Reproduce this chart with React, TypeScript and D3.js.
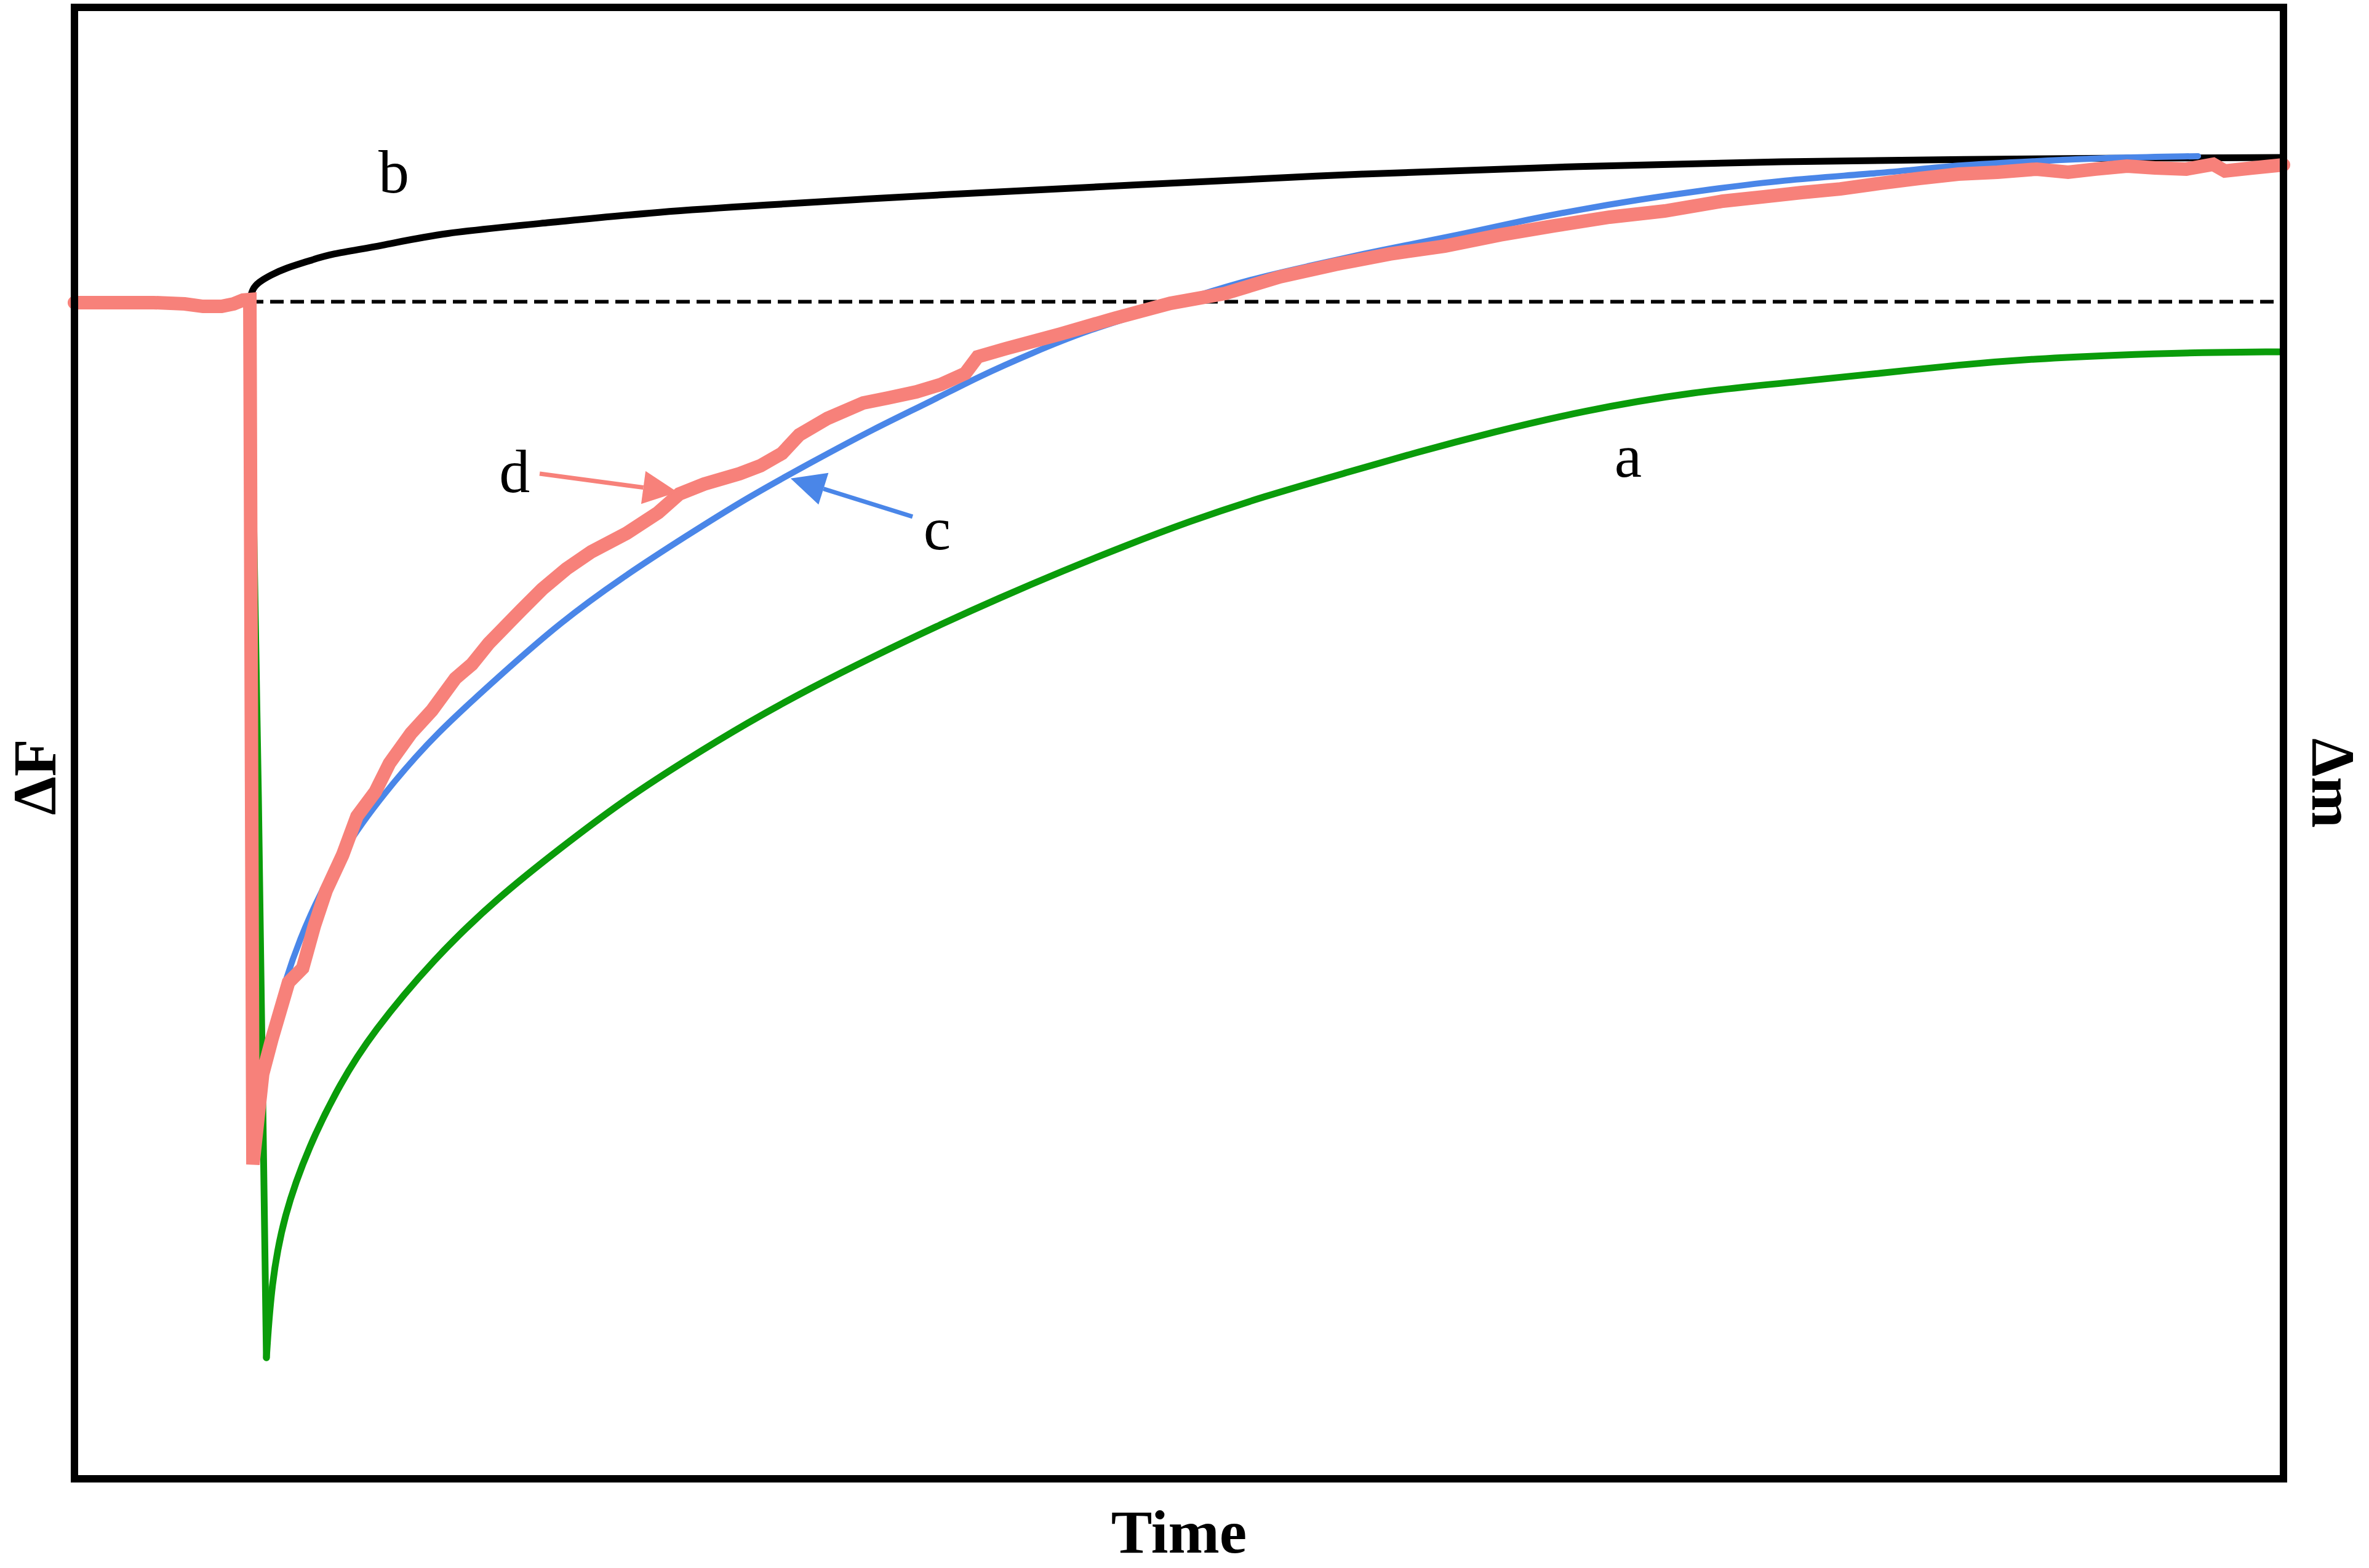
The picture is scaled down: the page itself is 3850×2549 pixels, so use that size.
import * as d3 from 'd3'
import { useEffect, useRef } from 'react'

// Time runs 0..100 across the frame; signal is relative to the pre-step baseline (dashed line = 0)

// curve b (black)
const bTime = [7.94, 8.05, 8.33, 8.89, 9.55, 10.56, 11.56, 13.9, 16.52, 21.5, 26.46, 31.45, 35.63, 38.41, 48.36, 58.3, 68.25, 77.41, 85.77, 92.73, 99.86]
const bSignal = [0.13, 1.07, 1.65, 2.27, 2.84, 3.42, 4.05, 4.73, 5.83, 6.71, 7.65, 8.23, 8.7, 9.01, 9.95, 10.89, 11.52, 11.93, 12.09, 12.2, 12.25]

// curve a (green) - first three points are the drop, the rest the recovery
const aTime = [7.94, 8.33, 8.69, 8.91, 9.47, 10.61, 12.03, 13.45, 16.3, 19.14, 21.98, 24.82, 27.66, 30.5, 33.34, 36.18, 39.03, 41.87, 44.74, 47.58, 50.42, 53.73, 57.91, 60.7, 64.15, 68.25, 73.23, 78.19, 81.73, 85.29, 88.83, 92.4, 95.93, 99.86]
const aSignal = [0.02, -42.31, -89.71, -83.49, -77.63, -71.73, -66.4, -62.17, -55.74, -50.67, -46.44, -42.41, -38.96, -35.72, -32.8, -30.13, -27.57, -25.17, -22.87, -20.72, -18.69, -16.6, -14.35, -12.83, -11.11, -9.28, -7.66, -6.77, -6.09, -5.36, -4.84, -4.53, -4.32, -4.26]
const aMinIndex = 2

// curve c (blue)
const cTime = [8.33, 8.64, 9.53, 10.56, 12.31, 14.4, 16.3, 19.14, 21.98, 24.82, 27.66, 30.5, 33.34, 36.18, 38.91, 40.89, 43.4, 45.88, 48.36, 50.84, 53.34, 55.82, 58.3, 60.81, 63.29, 65.77, 68.25, 70.75, 73.23, 77.41, 81.73, 85.29, 88.83, 92.4, 96.13]
const cSignal = [-67.91, -63.94, -57.56, -52.34, -45.96, -40.89, -36.82, -31.96, -27.25, -23.39, -19.94, -16.6, -13.67, -10.8, -8.34, -6.4, -4.31, -2.43, -1.02, 0.54, 1.95, 3.0, 4.05, 4.99, 5.93, 6.97, 7.86, 8.65, 9.33, 10.37, 10.89, 11.62, 11.94, 12.25, 12.36]

// curve d (measured, salmon)
const dTime = [0, 3.59, 4.99, 5.82, 6.66, 7.21, 7.63, 7.94, 8.08, 8.52, 8.94, 9.69, 10.33, 10.86, 11.39, 12.14, 12.79, 13.62, 14.26, 15.24, 16.18, 17.24, 17.99, 18.75, 20.22, 21.17, 22.26, 23.4, 24.99, 26.43, 27.38, 28.5, 30.11, 31.06, 32.03, 32.81, 34.09, 35.71, 36.82, 38.11, 39.22, 40.33, 40.89, 42.14, 44.62, 47.13, 49.61, 52.09, 54.57, 57.08, 59.55, 62.03, 64.54, 67.02, 69.5, 71.98, 74.62, 76.41, 78.19, 79.94, 81.73, 83.51, 85.29, 87.05, 88.83, 90.25, 91.5, 92.92, 94.18, 95.6, 96.82, 97.35, 98.61, 100]
const dSignal = [-0.08, -0.08, -0.19, -0.4, -0.4, -0.19, 0.13, 0.18, -73.29, -65.61, -62.63, -57.83, -56.62, -53.02, -50.04, -47.01, -43.72, -41.63, -39.22, -36.66, -34.73, -32.01, -30.81, -29.04, -26.21, -24.43, -22.71, -21.25, -19.68, -17.91, -16.34, -15.5, -14.61, -13.93, -12.89, -11.32, -9.91, -8.6, -8.18, -7.66, -7.03, -6.09, -4.68, -4.0, -2.75, -1.39, -0.14, 0.7, 2.11, 3.16, 4.05, 4.72, 5.67, 6.45, 7.18, 7.7, 8.54, 8.9, 9.27, 9.58, 10.05, 10.47, 10.84, 11.0, 11.26, 11.0, 11.26, 11.52, 11.36, 11.26, 11.67, 11.1, 11.36, 11.62]

// baseline starts at the step
const baselineStart = 7.94

// curve labels
const labelNames = ['a', 'b', 'c', 'd']
const labelTime = [70.33, 14.46, 39.05, 19.92]
const labelSignal = [-14.86, 9.27, -21.04, -16.17]

// arrows pointing at c and d: tail -> tip
const arrowNames = ['d', 'c']
const arrowFrom = [[21.06, -14.61], [37.94, -18.26]]
const arrowTo = [[27.3, -16.18], [32.42, -15.02]]

const colors: Record<string, string> = {
  a: '#0a9c0a',
  b: '#000000',
  c: '#4a86e8',
  d: '#f7817a',
}

const zip = (t: number[], v: number[]) => t.map((d, i) => [d, v[i]] as [number, number])

export default function App() {
  const svgRef = useRef<SVGSVGElement>(null)

  useEffect(() => {
    if (!svgRef.current) return
    d3.select(svgRef.current).selectAll('*').remove()

    const width = 3850
    const height = 2549
    const frame = { left: 121, right: 3711, top: 12, bottom: 2404 }
    const font = '"Liberation Serif", "Times New Roman", serif'

    const svg = d3
      .select(svgRef.current)
      .attr('width', width)
      .attr('height', height)

    svg.append('rect').attr('width', width).attr('height', height).attr('fill', '#fff')

    const x = d3.scaleLinear().domain([0, 100]).range([frame.left, frame.right])
    const y = d3.scaleLinear().domain([-100, 25]).range([frame.bottom, frame.top])

    const line = (curve: d3.CurveFactory) =>
      d3
        .line<[number, number]>()
        .x(d => x(d[0]))
        .y(d => y(d[1]))
        .curve(curve)

    const draw = (d: string | null, color: string, w: number) =>
      svg
        .append('path')
        .attr('d', d)
        .attr('fill', 'none')
        .attr('stroke', color)
        .attr('stroke-width', w)
        .attr('stroke-linecap', 'round')
        .attr('stroke-linejoin', 'round')

    // Dashed baseline
    svg
      .append('line')
      .attr('x1', x(baselineStart))
      .attr('x2', x(100))
      .attr('y1', y(0))
      .attr('y2', y(0))
      .attr('stroke', '#000')
      .attr('stroke-width', 6)
      .attr('stroke-dasharray', '22 11')

    // Model curves
    const aData = zip(aTime, aSignal)
    draw(line(d3.curveLinear)(aData.slice(0, aMinIndex + 1)), colors.a, 11)
    draw(line(d3.curveBasis)(aData.slice(aMinIndex)), colors.a, 11)
    draw(line(d3.curveBasis)(zip(bTime, bSignal)), colors.b, 11)
    draw(line(d3.curveBasis)(zip(cTime, cSignal)), colors.c, 10)

    // Measured trace on top
    svg
      .append('path')
      .attr('d', line(d3.curveLinear)(zip(dTime, dSignal)))
      .attr('fill', 'none')
      .attr('stroke', colors.d)
      .attr('stroke-width', 22)
      .attr('stroke-linecap', 'round')
      .attr('stroke-linejoin', 'miter')
      .attr('stroke-miterlimit', 2)

    // Frame
    svg
      .append('rect')
      .attr('x', frame.left)
      .attr('y', frame.top)
      .attr('width', frame.right - frame.left)
      .attr('height', frame.bottom - frame.top)
      .attr('fill', 'none')
      .attr('stroke', '#000')
      .attr('stroke-width', 12)

    // Arrows
    arrowNames.forEach((name, i) => {
      const x1 = x(arrowFrom[i][0])
      const y1 = y(arrowFrom[i][1])
      const x2 = x(arrowTo[i][0])
      const y2 = y(arrowTo[i][1])
      const len = Math.hypot(x2 - x1, y2 - y1)
      const ux = (x2 - x1) / len
      const uy = (y2 - y1) / len
      const headLen = 56
      const headHalf = 27
      const bx = x2 - ux * headLen
      const by = y2 - uy * headLen
      svg
        .append('line')
        .attr('x1', x1)
        .attr('y1', y1)
        .attr('x2', bx)
        .attr('y2', by)
        .attr('stroke', colors[name])
        .attr('stroke-width', 7)
      svg
        .append('polygon')
        .attr(
          'points',
          [
            [x2, y2],
            [bx - uy * headHalf, by + ux * headHalf],
            [bx + uy * headHalf, by - ux * headHalf],
          ]
            .map(p => p.join(','))
            .join(' ')
        )
        .attr('fill', colors[name])
    })

    // Curve labels
    labelNames.forEach((name, i) => {
      svg
        .append('text')
        .attr('x', x(labelTime[i]))
        .attr('y', y(labelSignal[i]))
        .attr('text-anchor', 'middle')
        .style('font-family', font)
        .style('font-size', '100px')
        .text(name)
    })

    // Axis titles
    svg
      .append('text')
      .attr('x', (frame.left + frame.right) / 2)
      .attr('y', 2524)
      .attr('text-anchor', 'middle')
      .style('font-family', font)
      .style('font-size', '100px')
      .style('font-weight', 'bold')
      .text('Time')

    svg
      .append('text')
      .attr('transform', `translate(90,${(frame.top + frame.bottom) / 2 + 55}) rotate(-90)`)
      .attr('text-anchor', 'middle')
      .style('font-family', font)
      .style('font-size', '100px')
      .style('font-weight', 'bold')
      .text('ΔF')

    svg
      .append('text')
      .attr('transform', `translate(3758,${(frame.top + frame.bottom) / 2 + 65}) rotate(90)`)
      .attr('text-anchor', 'middle')
      .style('font-family', font)
      .style('font-size', '100px')
      .style('font-weight', 'bold')
      .text('Δm')
  }, [])

  return (
    <svg
      ref={svgRef}
      style={{ position: 'absolute', left: 0, top: 0, display: 'block' }}
    ></svg>
  )
}
